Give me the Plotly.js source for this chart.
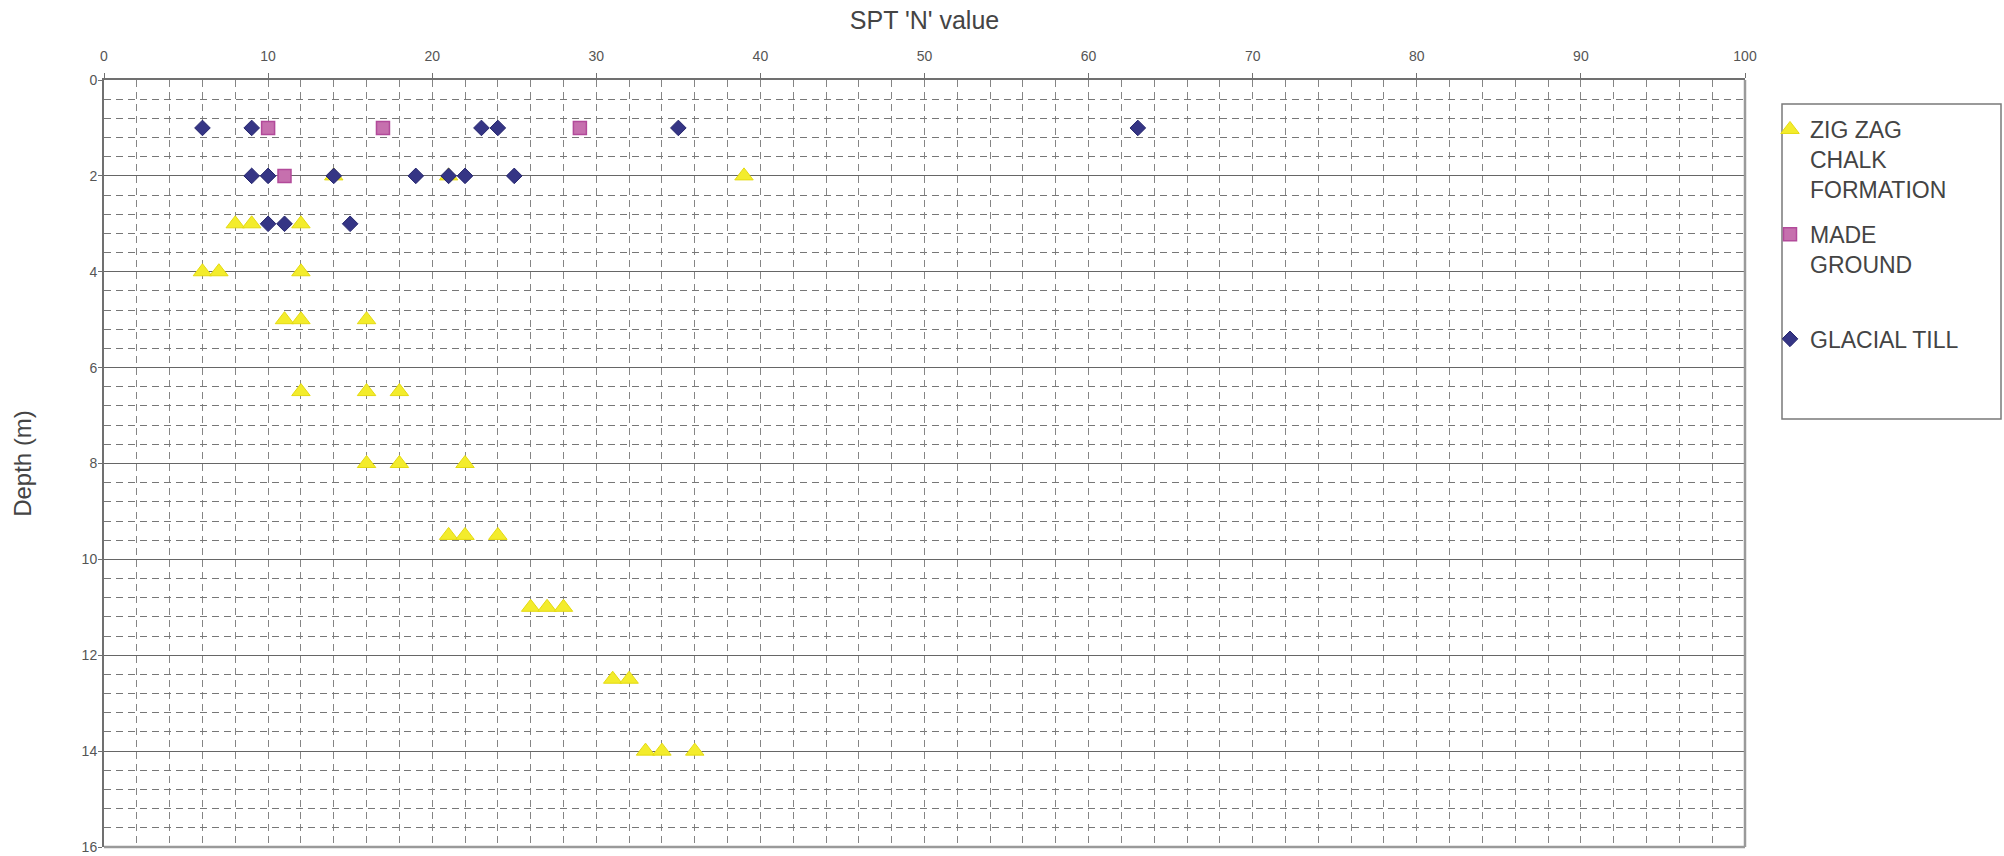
<!DOCTYPE html>
<html>
<head>
<meta charset="utf-8">
<script src="https://cdn.plot.ly/plotly-3.0.1.min.js"></script>
<style>
  html, body { margin: 0; padding: 0; background: #fff; }
  #chart { width: 2004px; height: 856px; }
</style>
</head>
<body>
<div id="chart"></div>
<script>
// SPT 'N' values (x) and depths in metres (y)
const seriesNames = ["ZIG ZAG<br>CHALK<br>FORMATION", "MADE<br>GROUND<br> ", "GLACIAL TILL"];

const zigZagN     = [14, 21, 39, 8, 9, 12, 6, 7, 12, 11, 12, 16, 12, 16, 18, 16, 18, 22, 21, 22, 24, 26, 27, 28, 31, 32, 33, 34, 36];
const zigZagDepth = [2, 2, 2, 3, 3, 3, 4, 4, 4, 5, 5, 5, 6.5, 6.5, 6.5, 8, 8, 8, 9.5, 9.5, 9.5, 11, 11, 11, 12.5, 12.5, 14, 14, 14];

const madeGroundN     = [10, 17, 29, 11];
const madeGroundDepth = [1, 1, 1, 2];

const glacialTillN     = [6, 9, 23, 24, 35, 63, 9, 10, 14, 19, 21, 22, 25, 10, 11, 15];
const glacialTillDepth = [1, 1, 1, 1, 1, 1, 2, 2, 2, 2, 2, 2, 2, 3, 3, 3];

const xTitle = "SPT 'N' value";
const yTitle = "Depth (m)";

const FONT = "Liberation Sans, Arial, Helvetica, sans-serif";

const MT = 80, MB = 9, ML = 104, MR = 259;
const PW = 2004 - ML - MR, PH = 856 - MT - MB;

const traces = [
  {
    type: "scatter", mode: "markers", name: seriesNames[0], legendgroup: "g1",
    x: zigZagN, y: zigZagDepth,
    marker: { symbol: "triangle-up", size: 16, color: "#F3EC2C", line: { color: "#E4DA10", width: 1 } }
  },
  {
    type: "scatter", mode: "markers", name: seriesNames[1], legendgroup: "g2",
    x: madeGroundN, y: madeGroundDepth,
    marker: { symbol: "square", size: 13, color: "#C670AE", line: { color: "#B24A9A", width: 1.5 } }
  },
  {
    type: "scatter", mode: "markers", name: seriesNames[2], legendgroup: "g3",
    x: glacialTillN, y: glacialTillDepth,
    marker: { symbol: "diamond", size: 12, color: "#353585", line: { color: "#25256E", width: 1 } }
  }
];

const layout = {
  width: 2004, height: 856,
  paper_bgcolor: "#ffffff", plot_bgcolor: "#ffffff",
  margin: { l: ML, r: MR, t: MT, b: MB },
  font: { family: FONT, color: "#555555" },
  showlegend: true,
  xaxis: {
    side: "top",
    range: [0, 100], dtick: 10, tick0: 0,
    showline: true, linecolor: "#707070", linewidth: 2,
    ticks: "outside", ticklen: 5, tickcolor: "#707070", tickwidth: 1,
    ticklabelstandoff: 6, ticklabeloverflow: "allow",
    tickfont: { family: FONT, size: 14, color: "#555555" },
    showgrid: true, gridcolor: "#858585", gridwidth: 1, griddash: "7px,5px",
    minor: { dtick: 2, showgrid: true, gridcolor: "#858585", gridwidth: 1, griddash: "7px,5px" },
    zeroline: false,
    title: { text: xTitle, font: { family: FONT, size: 25, color: "#444444" }, standoff: 12 }
  },
  yaxis: {
    range: [16, 0], dtick: 2, tick0: 0,
    showline: true, linecolor: "#707070", linewidth: 2,
    ticks: "outside", ticklen: 4, tickcolor: "#707070", tickwidth: 1,
    ticklabelstandoff: -2, ticklabeloverflow: "allow",
    tickfont: { family: FONT, size: 14, color: "#555555" },
    showgrid: true, gridcolor: "#666666", gridwidth: 1,
    minor: { dtick: 0.4, showgrid: true, gridcolor: "#777777", gridwidth: 1, griddash: "7px,5px" },
    zeroline: false,
    title: { text: yTitle, font: { family: FONT, size: 24, color: "#444444" }, standoff: 43 }
  },
  legend: {
    xref: "container", yref: "container",
    x: 1770 / 2004, y: 1 - 108 / 856,
    xanchor: "left", yanchor: "top",
    valign: "top",
    bgcolor: "rgba(0,0,0,0)", borderwidth: 0,
    font: { family: FONT, size: 23, color: "#444444" },
    tracegroupgap: 12
  },
  shapes: [
    // right and bottom plot frame
    { type: "line", xref: "paper", yref: "paper", x0: 1, x1: 1, y0: 0, y1: 1, line: { color: "#9a9a9a", width: 2.5 } },
    { type: "line", xref: "paper", yref: "paper", x0: 0, x1: 1, y0: 0, y1: 0, line: { color: "#9a9a9a", width: 2.5 } },
    // legend frame
    { type: "rect", xref: "paper", yref: "paper",
      x0: (1782 - ML) / PW, x1: (2001 - ML) / PW,
      y0: (856 - MB - 419) / PH, y1: (856 - MB - 104) / PH,
      line: { color: "#7a7a7a", width: 1.5 }, fillcolor: "rgba(0,0,0,0)" }
  ]
};

Plotly.newPlot("chart", traces, layout, { displayModeBar: false, staticPlot: true });
</script>
</body>
</html>
